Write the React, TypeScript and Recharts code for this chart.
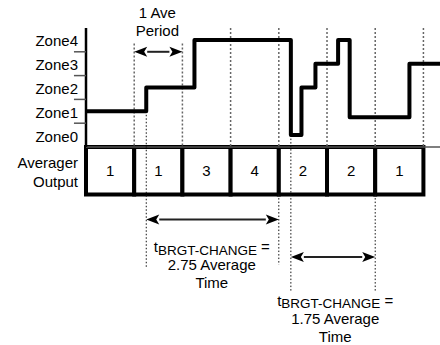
import React from 'react';
import { ComposedChart, Line, XAxis, YAxis, ReferenceLine, ReferenceArea, ReferenceDot } from 'recharts';

// brightness signal, t in average periods, level in zone units (ZoneN band = [N, N+1])
const signalTimes = [0, 1.25, 2.25, 4.25, 4.47, 4.76, 5.23, 5.47, 6.71, 7.35];
const signalLevels = [1.5, 2.5, 4.5, 0.5, 2.5, 3.5, 4.5, 1.25, 3.5, 3.5];

const zoneLabels = ['Zone0', 'Zone1', 'Zone2', 'Zone3', 'Zone4'];
const zoneTicks = [0.5, 1.5, 2.5, 3.5, 4.5];
const zoneBounds = [1, 2, 3, 4];
const outputLabel = ['Averager', 'Output'];

// averager output per period
const averagerOutput = [1, 1, 3, 4, 2, 2, 1];

// dotted period guides
const periodGuides = [
  { t: 1, top: 4.35 }, { t: 2, top: 4.35 }, { t: 3, top: 5 }, { t: 4, top: 5 },
  { t: 5, top: 5 }, { t: 6, top: 5 }, { t: 7, top: 5 },
];
// fine dotted markers (start/end of brightness change)
const markers = [
  { t: 1.25, from: 1.5, to: -5.1 },
  { t: 4.25, from: 0.5, to: -6.1 },
  { t: 4, from: -2, to: -4.95 },
  { t: 6, from: -2, to: -6.1 },
];

const arrows = [
  { from: 1, to: 2, z: 4 },
  { from: 1.25, to: 4, z: -3.05 },
  { from: 4.25, to: 6, z: -4.62 },
];

type Seg = [string, boolean];
const notes: { t: number; z: number; lines: Seg[][] }[] = [
  { t: 1.48, z: 5.67, lines: [[['1 Ave', false]], [['Period', false]]] },
  { t: 2.61, z: -4.19, lines: [[['t', false], ['BRGT-CHANGE', true], [' =', false]], [['2.75 Average', false]], [['Time', false]]] },
  { t: 5.17, z: -6.43, lines: [[['t', false], ['BRGT-CHANGE', true], [' =', false]], [['1.75 Average', false]], [['Time', false]]] },
];

const signal = signalTimes.map((t, i) => ({ t, z: signalLevels[i] }));

const FONT = 'Liberation Sans, Arial, sans-serif';

const AxisTick = (props: any) => {
  const { x, y, payload } = props;
  const v = payload.value;
  const lines = v < 0 ? outputLabel : [zoneLabels[Math.floor(v)]];
  const off = ((lines.length - 1) * 19) / 2;
  return (
    <text x={x} y={y} textAnchor="end" fontSize={15} fontFamily={FONT} fill="#000">
      {lines.map((l, i) => (
        <tspan key={i} x={x} y={y - off + i * 19 + 6.5}>{l}</tspan>
      ))}
    </text>
  );
};

const DoubleArrow = (p: any) => {
  const { x1, y1, x2, y2 } = p;
  const h = 13, w = 5;
  return (
    <g>
      <line x1={x1 + h} y1={y1} x2={x2 - h} y2={y2} stroke="#222" strokeWidth={2} />
      <polygon points={`${x1},${y1} ${x1 + h},${y1 - w} ${x1 + h - 3},${y1} ${x1 + h},${y1 + w}`} fill="#000" />
      <polygon points={`${x2},${y2} ${x2 - h},${y2 - w} ${x2 - h + 3},${y2} ${x2 - h},${y2 + w}`} fill="#000" />
    </g>
  );
};

const noteShape = (lines: Seg[][]) => (p: any) => {
  const { cx, cy } = p;
  return (
    <text textAnchor="middle" fontSize={15} fontFamily={FONT} fill="#000">
      {lines.map((segs, i) => (
        <tspan key={i} x={cx} y={cy + i * 18 + 5.5}>
          {segs.map(([s, sub], j) =>
            sub ? (
              <tspan key={j} fontSize={13.5} dy={2.5}>{s}</tspan>
            ) : (
              <tspan key={j} dy={j > 0 ? -2.5 : 0}>{s}</tspan>
            )
          )}
        </tspan>
      ))}
    </text>
  );
};

export default function App() {
  return (
    <div style={{ position: 'absolute', left: 0, top: 0, width: 440, height: 345, background: '#fff' }}>
      <ComposedChart width={440} height={345} data={signal} margin={{ top: 28, right: 0, bottom: 0, left: 0 }}>
        <XAxis dataKey="t" type="number" domain={[0, 7.344]} allowDataOverflow hide />
        <YAxis
          type="number"
          domain={[-8.32, 5]}
          ticks={[...zoneTicks, -1]}
          width={86}
          axisLine={false}
          tickLine={false}
          tick={AxisTick}
          interval={0}
          allowDataOverflow
        />
        {periodGuides.map((g) => (
          <ReferenceLine key={'g' + g.t} segment={[{ x: g.t, y: g.top }, { x: g.t, y: 0 }]} stroke="#666" strokeWidth={1.5} strokeDasharray="2 2" />
        ))}
        <ReferenceLine y={0} stroke="#555" strokeWidth={1.5} />
        {averagerOutput.map((v, i) => (
          <ReferenceArea
            key={'b' + i}
            x1={i}
            x2={i + 1}
            y1={-2}
            y2={0}
            fill="#fff"
            fillOpacity={1}
            stroke="#000"
            strokeWidth={4}
            label={{ value: v, position: 'center', fontSize: 15, fill: '#000', fontFamily: FONT }}
          />
        ))}
        {markers.map((m, i) => (
          <ReferenceLine key={'m' + i} segment={[{ x: m.t, y: m.from }, { x: m.t, y: m.to }]} stroke="#111" strokeWidth={1} strokeDasharray="1.5 2" ifOverflow="visible" />
        ))}
        <Line dataKey="z" type="stepAfter" stroke="#000" strokeWidth={4} strokeLinejoin="round" dot={false} isAnimationActive={false} />
        <ReferenceLine segment={[{ x: 0, y: 0 }, { x: 0, y: 5 }]} stroke="#000" strokeWidth={2.5} ifOverflow="visible" />
        {zoneBounds.map((b) => (
          <ReferenceLine key={'k' + b} segment={[{ x: -0.25, y: b }, { x: 0, y: b }]} stroke="#555" strokeWidth={1.5} ifOverflow="visible" />
        ))}
        {arrows.map((a, i) => (
          <ReferenceLine key={'a' + i} segment={[{ x: a.from, y: a.z }, { x: a.to, y: a.z }]} shape={DoubleArrow} ifOverflow="visible" />
        ))}
        {notes.map((n, i) => (
          <ReferenceDot key={'n' + i} x={n.t} y={n.z} r={0} shape={noteShape(n.lines)} ifOverflow="visible" />
        ))}
      </ComposedChart>
    </div>
  );
}
